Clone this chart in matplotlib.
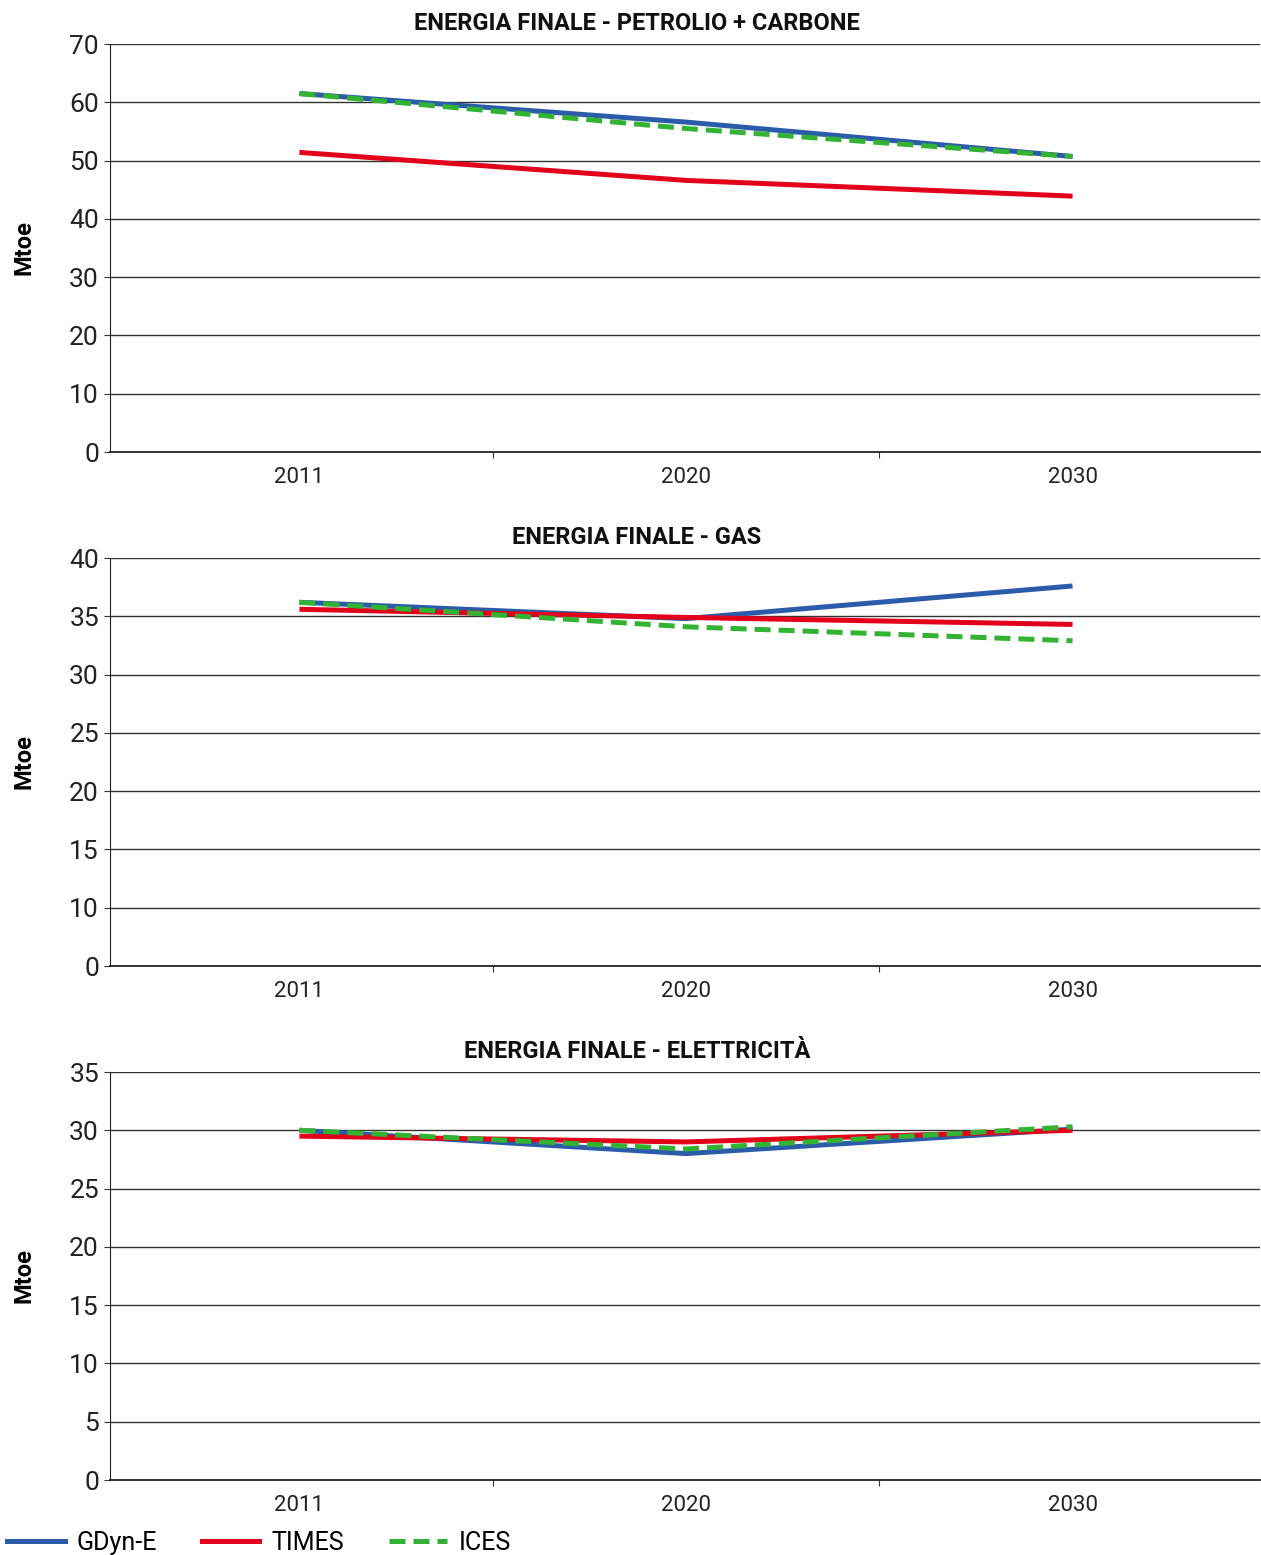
import matplotlib.pyplot as plt
from matplotlib.lines import Line2D

plt.rcParams['font.family'] = ['Roboto', 'DejaVu Sans']

anni = ["2011", "2020", "2030"]
modelli = ["GDyn-E", "TIMES", "ICES"]

# Mtoe
petrolio_gdyn = [61.5, 56.6, 50.7]
petrolio_times = [51.4, 46.6, 43.9]
petrolio_ices = [61.5, 55.5, 50.7]

gas_gdyn = [36.2, 34.8, 37.6]
gas_times = [35.6, 34.9, 34.3]
gas_ices = [36.2, 34.1, 32.9]

elet_gdyn = [30.0, 28.0, 30.1]
elet_times = [29.5, 29.0, 30.0]
elet_ices = [30.0, 28.4, 30.3]

titoli = ["ENERGIA FINALE - PETROLIO + CARBONE",
          "ENERGIA FINALE - GAS",
          "ENERGIA FINALE - ELETTRICITÀ"]

# tick asse y come nel grafico originale (nel pannello gas manca il 5)
yticks = [[0, 10, 20, 30, 40, 50, 60, 70],
          [5, 10, 15, 20, 25, 30, 35, 40],
          [0, 5, 10, 15, 20, 25, 30, 35]]
yticklabels = [["0", "10", "20", "30", "40", "50", "60", "70"],
               ["0", "10", "15", "20", "25", "30", "35", "40"],
               ["0", "5", "10", "15", "20", "25", "30", "35"]]

serie = [[petrolio_gdyn, petrolio_times, petrolio_ices],
         [gas_gdyn, gas_times, gas_ices],
         [elet_gdyn, elet_times, elet_ices]]

blu = "#2a5caa"
rosso = "#e2001a"
verde = "#34b233"
lw = 3.6

fig = plt.figure(figsize=(12.61, 15.55), dpi=100)
W, H = 1261, 1555
tops = [44, 558, 1072]
x0, x1 = 110, 1260
h = 408

for i in range(3):
    ax = fig.add_axes([x0 / W, 1 - (tops[i] + h) / H, (x1 - x0) / W, h / H])
    xs = range(len(anni))
    g, t, c = serie[i]
    ax.plot(xs, g, color=blu, lw=lw, solid_capstyle='butt', zorder=3)
    ax.plot(xs, t, color=rosso, lw=lw, solid_capstyle='butt', zorder=4)
    ax.plot(xs, c, color=verde, lw=lw, dashes=(3.2, 1.6), dash_capstyle='butt', zorder=5)

    ax.set_xlim(-0.49, 2.485)
    ax.set_ylim(yticks[i][0], yticks[i][-1])
    ax.set_yticks(yticks[i])
    ax.set_yticklabels(yticklabels[i], fontsize=19, color="#222222")
    ax.set_xticks([0.5, 1.5])
    ax.set_xticklabels([])
    ax.set_xticks(list(xs), minor=True)
    ax.set_xticklabels(anni, minor=True, fontsize=16, color="#222222")
    ax.tick_params(axis='x', which='minor', length=0, pad=11)
    ax.tick_params(axis='x', which='major', length=4, direction='out', color="#333333")
    ax.tick_params(axis='y', length=4, direction='out', pad=4, color="#333333")

    for yv in yticks[i][1:]:
        ax.axhline(yv, color="#333333", lw=1, zorder=1)
    for s in ['top', 'right']:
        ax.spines[s].set_visible(False)
    ax.spines['left'].set_color("#222222")
    ax.spines['bottom'].set_color("#222222")
    ax.spines['bottom'].set_linewidth(1.3)

    fig.text(637 / W, 1 - (tops[i] - 21) / H, titoli[i], fontsize=17, fontweight='bold',
             ha='center', va='center', color="#111111")
    ax.set_ylabel("Mtoe", fontsize=17, fontweight='bold')
    ax.yaxis.set_label_coords(-0.065, 0.5)

handles = [Line2D([], [], color=blu, lw=lw),
           Line2D([], [], color=rosso, lw=lw),
           Line2D([], [], color=verde, lw=lw, dashes=(3.2, 1.6))]
fig.legend(handles, modelli, loc='center left', bbox_to_anchor=(7 / W, 1 - 1543 / H),
           ncol=3, frameon=False, fontsize=18, handlelength=2.3,
           handletextpad=0.48, columnspacing=1.8, borderpad=0, borderaxespad=0)

fig.savefig("out.png", dpi=100)
